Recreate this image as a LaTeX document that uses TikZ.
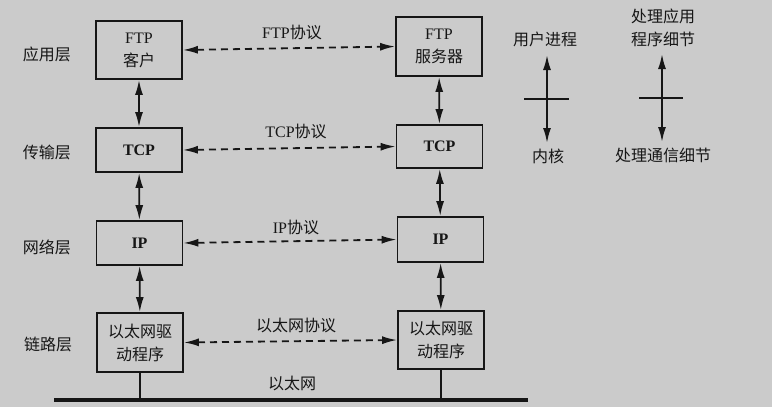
\documentclass[tikz,border=0pt]{standalone}
\usepackage{fontspec}
\setmainfont{Liberation Serif}
\newfontfamily\cjk{Noto Sans CJK SC}
\usetikzlibrary{arrows.meta,positioning}
\definecolor{scan}{RGB}{203,203,203}
\definecolor{ink}{RGB}{22,22,22}

\begin{document}
\begin{tikzpicture}[x=1pt,y=-1pt,font=\fontsize{16}{23}\selectfont,box/.style={draw=ink,line width=1.8pt,text=ink,align=center,minimum width=86pt,inner sep=0pt},bbox/.style={box,font=\fontsize{16}{23}\selectfont\bfseries},lbl/.style={text=ink,align=center,inner sep=0pt,font=\fontsize{16}{23}\selectfont\cjk},arr/.style={{Latex[length=15pt,width=8pt]}-{Latex[length=15pt,width=8pt]},draw=ink,line width=1.8pt},darr/.style={arr,dash pattern=on 7pt off 5pt}]
\fill[scan] (0,0) rectangle (772,407);
% layers
\node[lbl] (app) at (47,54) {应用层};
\node[lbl] (trn) at (47,152) {传输层};
\node[lbl] (net) at (47,247) {网络层};
\node[lbl] (lnk) at (48,344) {链路层};
% client side
\node[box,minimum height=58pt] (ftpc) at (139,50) {FTP\\{\cjk 客户}};
\node[bbox,minimum height=44pt] (tcpc) at (139,150) {TCP};
\node[bbox,minimum height=44pt] (ipc) at (139.5,243) {IP};
\node[box,minimum height=59pt,font=\fontsize{16}{23}\selectfont\cjk] (ethc) at (140,342.5) {以太网驱\\动程序};
% server side
\node[box,minimum height=59pt] (ftps) at (439,46.5) {FTP\\{\cjk 服务器}};
\node[bbox,minimum height=43pt] (tcps) at (439.5,146.5) {TCP};
\node[bbox,minimum height=45pt] (ips) at (440.5,239.5) {IP};
\node[box,minimum height=58pt,font=\fontsize{16}{23}\selectfont\cjk] (eths) at (441,340) {以太网驱\\动程序};
% protocols
\node[lbl] (ftpp) at (292,32) {{\rmfamily FTP}协议};
\node[lbl] (tcpp) at (296,131) {{\rmfamily TCP}协议};
\node[lbl] (ipp) at (296,227) {{\rmfamily IP}协议};
\node[lbl] (ethp) at (296,325) {以太网协议};
\node[lbl] (ethn) at (292,383) {以太网};
\draw[arr](ftpc)--(tcpc);\draw[arr](tcpc)--(ipc);\draw[arr](ipc)--(ethc);
\draw[arr](ftps)--(tcps);\draw[arr](tcps)--(ips);\draw[arr](ips)--(eths);
\draw[darr](ftpc.east)--(ftps.west);\draw[darr](tcpc.east)--(tcps.west);
\draw[darr](ipc.east)--(ips.west);\draw[darr](ethc.east)--(eths.west);
% ethernet
\coordinate (busw) at (54,400);\coordinate (buse) at (528,400);
\draw[ink,line width=3.5pt](busw)--(buse);
\draw[ink,line width=1.2pt](ethc.south)--(ethc.south|-busw);\draw[ink,line width=1.2pt](eths.south)--(eths.south|-busw);
% legend
\node[lbl] (user) at (545,39) {用户进程};
\node[lbl] (kern) at (548,156) {内核};
\coordinate (up1) at (547,55);\coordinate (dn1) at (547,143);\coordinate (mid1) at (547,99);
\draw[arr](up1)--(dn1);\draw[ink,line width=1.8pt]([xshift=-23pt]mid1)--([xshift=22pt]mid1);
\node[lbl] (appd) at (663,28) {处理应用\\程序细节};
\node[lbl] (comd) at (663,155) {处理通信细节};
\coordinate (up2) at (662,54);\coordinate (dn2) at (662,142);\coordinate (mid2) at (662,98);
\draw[arr](up2)--(dn2);\draw[ink,line width=1.8pt]([xshift=-23pt]mid2)--([xshift=21pt]mid2);
\end{tikzpicture}
\end{document}
